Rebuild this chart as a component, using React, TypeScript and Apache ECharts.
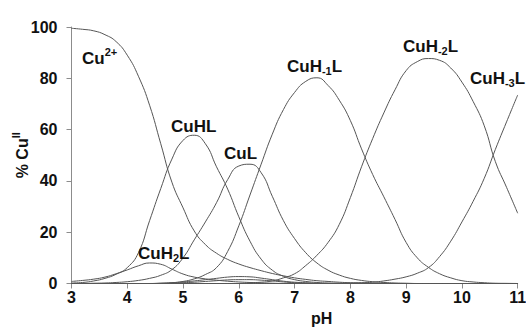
import React, { useEffect, useRef } from "react";
import * as echarts from "echarts";

// pH grid (x values)
const pH = [
  3.0, 3.2, 3.4, 3.6, 3.8, 4.0, 4.2, 4.4, 4.6, 4.8, 5.0, 5.2, 5.4, 5.6, 5.8, 6.0, 6.2, 6.4, 6.6, 6.8,
  7.0, 7.2, 7.4, 7.6, 7.8, 8.0, 8.2, 8.4, 8.6, 8.8, 9.0, 9.2, 9.4, 9.6, 9.8, 10.0, 10.2, 10.4, 10.6, 10.8, 11.0,
];

// % Cu(II) for each species
const cu2 = [
  99.5, 99.1, 98.5, 97.0, 94.3, 89.0, 80.8, 69.5, 54.5, 39.5, 29.5, 20.5, 15.2, 11.8, 9.4, 7.6, 6.2, 5.0, 3.9, 3.0,
  2.2, 1.6, 1.1, 0.8, 0.5, 0.3, 0.2, 0.1, 0.1, 0, 0, 0, 0, 0, 0, 0, 0, 0, 0, 0, 0,
];
const cuHL = [
  0.2, 0.4, 1.0, 2.0, 3.6, 6.2, 12.0, 24.5, 37.0, 48.5, 55.8, 57.8, 54.5, 45.5, 36.8, 26.0, 16.5, 9.5, 5.2, 2.8,
  1.5, 0.8, 0.4, 0.2, 0.1, 0, 0, 0, 0, 0, 0, 0, 0, 0, 0, 0, 0, 0, 0, 0, 0,
];
const cuH2L = [
  0.8, 1.2, 1.7, 2.5, 3.8, 5.3, 6.9, 8.0, 7.5, 5.6, 3.7, 2.5, 1.8, 1.3, 0.9, 0.6, 0.4, 0.2, 0.1, 0,
  0, 0, 0, 0, 0, 0, 0, 0, 0, 0, 0, 0, 0, 0, 0, 0, 0, 0, 0, 0, 0,
];
const cuL = [
  0, 0, 0.1, 0.2, 0.4, 0.7, 1.2, 2.0, 3.2, 5.4, 10.0, 17.0, 24.0, 31.5, 40.5, 45.8, 46.5, 43.2, 34.0, 24.5,
  17.5, 12.0, 8.0, 5.2, 3.3, 2.0, 1.2, 0.7, 0.4, 0.2, 0.1, 0, 0, 0, 0, 0, 0, 0, 0, 0, 0,
];
const cuHm1L = [
  0, 0, 0, 0, 0, 0, 0, 0, 0.1, 0.3, 0.8, 1.8, 3.5, 6.2, 12.5, 22.5, 34.5, 46.5, 58.2, 67.8,
  74.5, 78.8, 80.2, 77.2, 71.5, 63.5, 52.5, 42.5, 33.8, 25.0, 16.0, 10.0, 6.3, 3.8, 2.2, 1.1, 0.6, 0.3, 0.1, 0.05, 0,
];
const cuHm2L = [
  0, 0, 0, 0, 0, 0, 0, 0, 0, 0, 0, 0, 0, 0, 0, 0, 0.3, 0.5, 1.0, 2.2,
  3.8, 7.0, 11.0, 16.0, 23.0, 33.5, 45.5, 56.5, 66.5, 75.5, 83.0, 86.5, 87.7, 87.0, 84.0, 78.5, 71.0, 61.5, 47.5, 37.5, 27.4,
];
const cuHm3L = [
  0, 0, 0, 0, 0, 0, 0, 0, 0, 0, 0, 0, 0, 0, 0, 0, 0, 0, 0, 0,
  0, 0, 0, 0, 0, 0.2, 0.3, 0.5, 1.0, 1.7, 2.6, 4.0, 6.2, 10.5, 16.5, 24.0, 32.0, 41.0, 52.3, 63.0, 73.5,
];
const minorA = [
  0, 0, 0, 0, 0, 0, 0, 0, 0.1, 0.3, 0.6, 1.0, 1.5, 2.0, 2.5, 2.7, 2.6, 2.1, 1.5, 0.9,
  0.5, 0.3, 0.1, 0, 0, 0, 0, 0, 0, 0, 0, 0, 0, 0, 0, 0, 0, 0, 0, 0, 0,
];
const minorB = [
  0, 0, 0, 0, 0, 0, 0, 0, 0, 0.1, 0.3, 0.5, 0.8, 1.1, 1.4, 1.5, 1.5, 1.3, 1.0, 0.6,
  0.3, 0.1, 0, 0, 0, 0, 0, 0, 0, 0, 0, 0, 0, 0, 0, 0, 0, 0, 0, 0, 0,
];

const seriesList: { name: string; values: number[] }[] = [
  { name: "Cu2+", values: cu2 },
  { name: "CuH2L", values: cuH2L },
  { name: "CuHL", values: cuHL },
  { name: "CuL", values: cuL },
  { name: "CuH-1L", values: cuHm1L },
  { name: "CuH-2L", values: cuHm2L },
  { name: "CuH-3L", values: cuHm3L },
  { name: "minor A", values: minorA },
  { name: "minor B", values: minorB },
];

const xTicks = { min: 3, max: 11, step: 1 };
const yTicks = { min: 0, max: 100, step: 20 };

const FONT = '"Liberation Sans", Arial, sans-serif';
const small = (va: string) => ({
  fontSize: 11,
  fontWeight: "bold",
  fontFamily: FONT,
  fill: "#111",
  verticalAlign: va,
});

function label(text: string, x: number, y: number, lineHeight: number) {
  return {
    type: "text",
    x,
    y,
    z: 10,
    style: {
      text,
      fontSize: 17,
      fontWeight: "bold",
      fontFamily: FONT,
      fill: "#111",
      align: "left",
      verticalAlign: "middle",
      lineHeight,
      rich: {
        sub: small("bottom"),
        sup: small("top"),
      },
    },
  };
}

export default function App() {
  const ref = useRef<HTMLDivElement>(null);

  useEffect(() => {
    if (!ref.current) return;
    const chart = echarts.init(ref.current, null, { renderer: "svg" });
    const axisColor = "#8c8c8c";
    const tickFont = { fontSize: 16, fontWeight: "bold" as const, fontFamily: FONT, color: "#111" };

    chart.setOption({
      animation: false,
      backgroundColor: "#ffffff",
      grid: {
        left: 71.5,
        right: 8.3,
        top: 27,
        bottom: 43.5,
        containLabel: false,
        outerBoundsMode: "none",
      },
      xAxis: {
        type: "value",
        min: xTicks.min,
        max: xTicks.max,
        interval: xTicks.step,
        name: "pH",
        nameLocation: "middle",
        nameMoveOverlap: false,
        nameGap: 27,
        nameTextStyle: { ...tickFont, fontSize: 16, padding: [0, 0, 0, 54] },
        axisLine: { show: true, lineStyle: { color: axisColor, width: 1 } },
        axisTick: { show: true, inside: false, length: 5, lineStyle: { color: axisColor } },
        axisLabel: { ...tickFont, margin: 6 },
        splitLine: { show: false },
      },
      yAxis: {
        type: "value",
        min: yTicks.min,
        max: yTicks.max,
        interval: yTicks.step,
        name: "% Cu{sup|II}",
        nameLocation: "middle",
        nameMoveOverlap: false,
        nameRotate: 90,
        nameGap: 31,
        nameTextStyle: {
          ...tickFont,
          lineHeight: 24,
          padding: [0, 0, 6, 0],
          rich: {
            sup: { fontSize: 11, fontWeight: "bold", fontFamily: FONT, color: "#111", verticalAlign: "top" },
          },
        },
        axisLine: { show: true, lineStyle: { color: axisColor, width: 1 } },
        axisTick: { show: true, inside: false, length: 5, lineStyle: { color: axisColor } },
        axisLabel: { ...tickFont, margin: 14 },
        splitLine: { show: false },
      },
      series: seriesList.map((s) => ({
        name: s.name,
        type: "line",
        smooth: true,
        symbol: "none",
        lineStyle: { color: "#555555", width: 1 },
        data: pH.map((x, i) => [x, s.values[i]]),
      })),
      graphic: [
        label("Cu{sup|2+}", 82, 58, 24),
        label("CuHL", 171, 126, 20),
        label("CuL", 224, 153, 20),
        label("CuH{sub|2}L", 138, 253, 20),
        label("CuH{sub|-1}L", 287, 66, 20),
        label("CuH{sub|-2}L", 403, 46, 20),
        label("CuH{sub|-3}L", 470, 78.5, 20),
      ],
    });
    return () => chart.dispose();
  }, []);

  return (
    <div
      ref={ref}
      style={{ position: "fixed", left: 0, top: 0, width: 526, height: 327, background: "#fff" }}
    />
  );
}
